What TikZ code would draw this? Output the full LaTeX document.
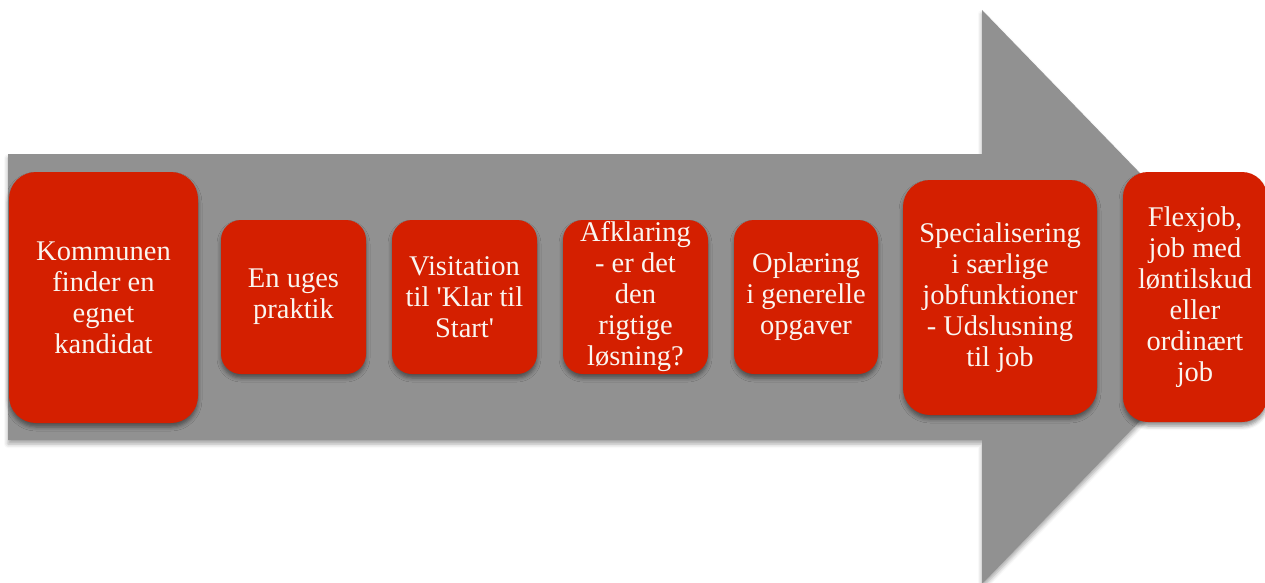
\documentclass[tikz,border=0pt]{standalone}
\usepackage{fontspec}
\setmainfont{Liberation Serif}
\usetikzlibrary{shadows.blur}
\definecolor{arrowgray}{HTML}{919191}
\definecolor{boxred}{HTML}{D41F00}
\definecolor{boxtext}{HTML}{FAF5F0}
\tikzset{
  bigarrow/.style={fill=arrowgray, draw=none,
    blur shadow={shadow xshift=0pt, shadow yshift=-4pt, shadow blur radius=4pt, shadow opacity=35}},
  stepbox/.style={rectangle, fill=boxred, draw=none, text=boxtext, align=center,
    inner sep=0pt, font=\fontsize{28.5}{31}\selectfont,
    blur shadow={shadow xshift=0pt, shadow yshift=-4pt, shadow blur radius=4pt, shadow opacity=45}},
}
\begin{document}
\begin{tikzpicture}[x=1pt, y=-1pt]
\useasboundingbox (0,0) rectangle (1265,583);
\clip (0,0) rectangle (1265,583);
\fill[bigarrow] (8,154) -- (982,154) -- (982,10) -- (1260,297) -- (982,584) -- (982,440) -- (8,440) -- cycle;
\node[stepbox, minimum width=189pt, minimum height=251pt, rounded corners=27pt] (s1) at (103.5,297.5)
  {Kommunen\\finder en\\egnet\\kandidat};
\node[stepbox, minimum width=145pt, minimum height=154pt, rounded corners=20pt] (s2) at (293.5,297)
  {En uges\\praktik};
\node[stepbox, minimum width=145pt, minimum height=154pt, rounded corners=20pt] (s3) at (464.5,297)
  {Visitation\\til \textquotesingle Klar til\\Start\textquotesingle};
\node[stepbox, minimum width=145pt, minimum height=154pt, rounded corners=20pt] (s4) at (635.5,297)
  {Afklaring\\- er det\\den\\rigtige\\løsning?};
\node[stepbox, minimum width=144pt, minimum height=154pt, rounded corners=20pt] (s5) at (806,297)
  {Oplæring\\i generelle\\opgaver};
\node[stepbox, minimum width=194pt, minimum height=235pt, rounded corners=27pt] (s6) at (1000,297.5)
  {Specialisering\\i særlige\\jobfunktioner\\- Udslusning\\til job};
\node[stepbox, minimum width=144pt, minimum height=250pt, rounded corners=25pt] (s7) at (1195,297)
  {Flexjob,\\job med\\løntilskud\\eller\\ordinært\\job};
\end{tikzpicture}
\end{document}
